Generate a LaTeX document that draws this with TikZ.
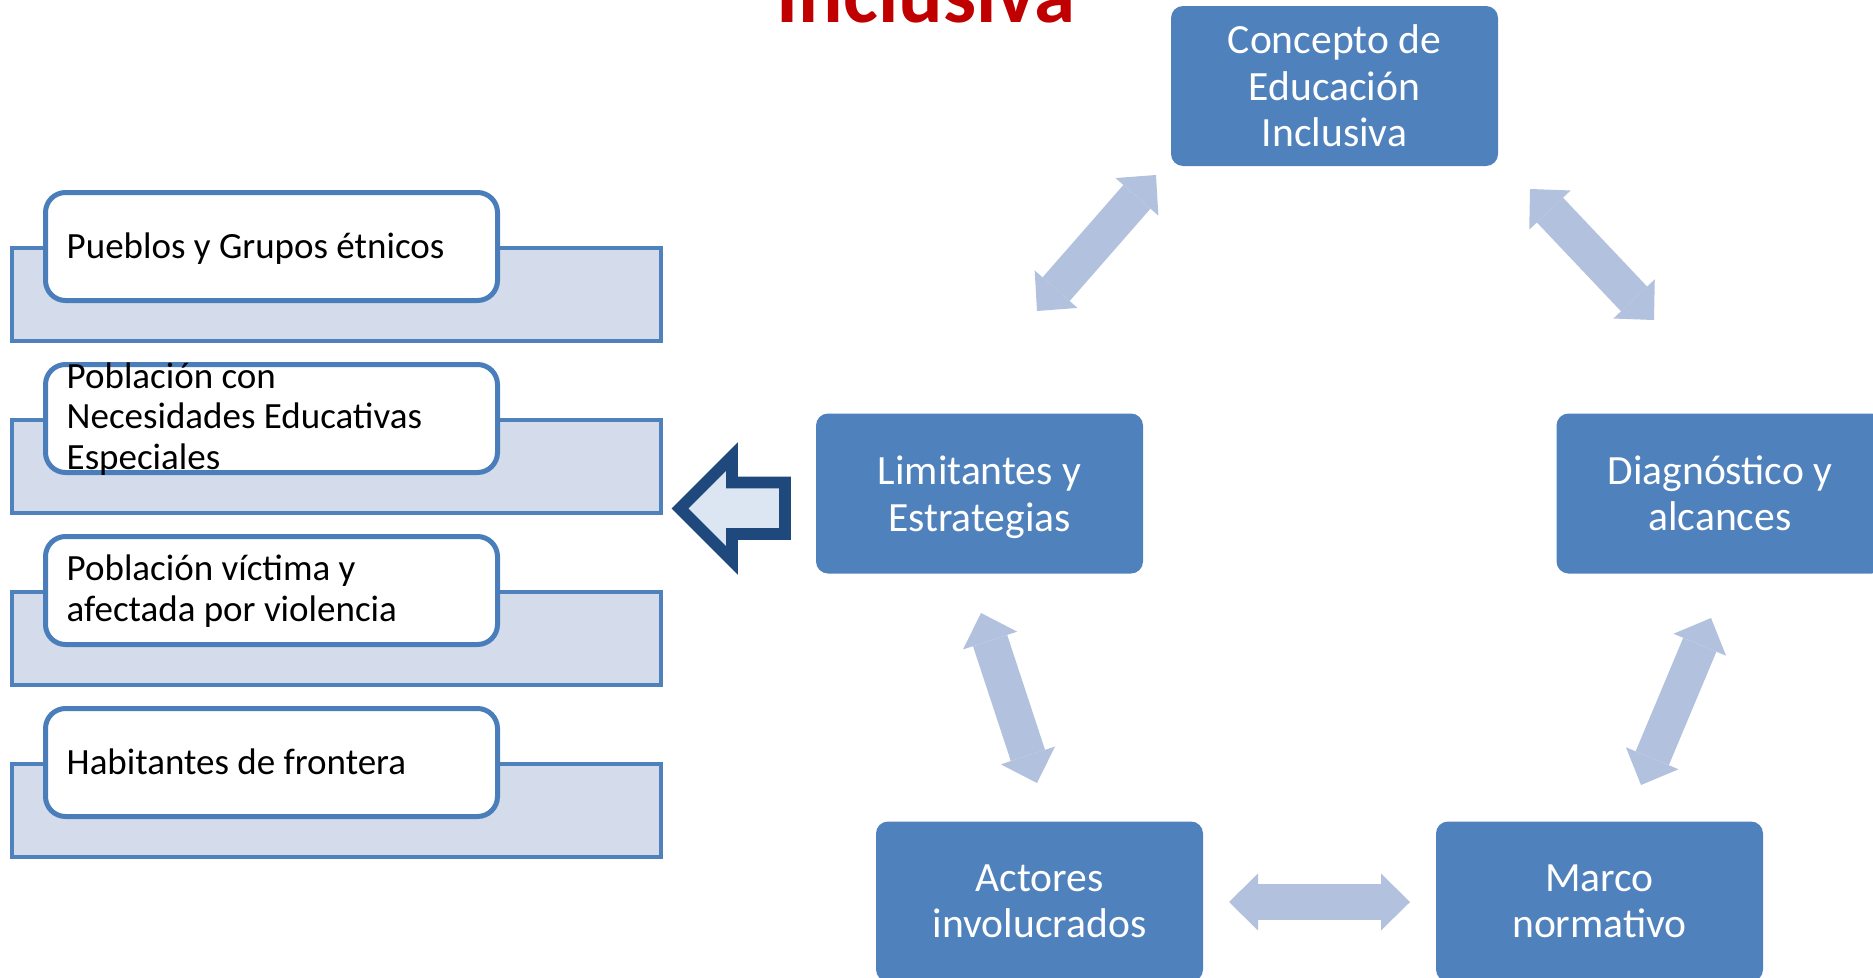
\documentclass[tikz,border=0pt]{standalone}
\usepackage{fontspec}
\setmainfont{Carlito}
\RequirePackage{tikz}
\RequirePackage{tkz-euclide}
\usetikzlibrary{calc}
\usetikzlibrary{arrows.meta}

\definecolor{boxblue}{HTML}{4F81BD}
\definecolor{edgeblue}{HTML}{4A7EBB}
\definecolor{backfill}{HTML}{D4DBEA}
\definecolor{linkblue}{HTML}{B2C1DD}
\definecolor{darkblue}{HTML}{1F497D}
\definecolor{paleblue}{HTML}{DCE6F2}
\definecolor{titlered}{HTML}{C00000}

\tikzset{
  topic/.style={rectangle,rounded corners=12pt,fill=boxblue,text=white,
    minimum width=327pt,minimum height=160pt,inner sep=0pt,align=center,
    font=\fontsize{41.6}{46.5}\selectfont},
  backbar/.style={rectangle,draw=boxblue,fill=backfill,line width=4pt,
    minimum width=649pt,minimum height=93pt,inner sep=0pt},
  popbox/.style={rectangle,rounded corners=20pt,draw=edgeblue,fill=white,
    line width=5pt,minimum width=452pt,minimum height=108pt,inner sep=0pt},
  poptext/.style={anchor=west,align=left,inner xsep=23.5pt,inner ysep=0pt,
    yshift=-3.5pt,font=\fontsize{37}{40.5}\selectfont,
    execute at begin node=\strut,execute at end node=\strut},
  link/.style={line width=36pt,color=linkblue,
    >={Triangle[width=57pt,length=29pt,line width=0pt]},<->}
}

\begin{document}
\begin{tikzpicture}[x=1pt,y=-1pt]
                    \useasboundingbox (0,0) rectangle (1873,977);
                    \clip (0,0) rectangle (1873,977);

                    \node[font=\fontsize{83}{90}\selectfont\bfseries,text=titlered,
                      anchor=base,inner sep=0pt] (titulo) at (926,22) {Inclusiva};

                    \node[backbar] (barra1) at (336.5,294.5) {};
                    \node[backbar] (barra2) at (336.5,466.5) {};
                    \node[backbar] (barra3) at (336.5,638.5) {};
                    \node[backbar] (barra4) at (336.5,810.5) {};

                    \node[popbox] (grupo1) at (271.5,246.5) {};
                    \node[popbox] (grupo2) at (271.5,418.5) {};
                    \node[popbox] (grupo3) at (271.5,590.5) {};
                    \node[popbox] (grupo4) at (271.5,762.5) {};

                    \node[poptext] (texto1) at (grupo1.west) {Pueblos y Grupos étnicos};
                    \node[poptext] (texto2) at (grupo2.west) {Población con\\Necesidades Educativas\\Especiales};
                    \node[poptext] (texto3) at (grupo3.west) {Población víctima y\\afectada por violencia};
                    \node[poptext] (texto4) at (grupo4.west) {Habitantes de frontera};

                    \draw[darkblue,fill=paleblue,line width=11.7pt]
                      (785,482.5) -- (732,482.5) -- (732,456.5) -- (680,508.5)
                      -- (732,560.5) -- (732,534) -- (785,534) -- cycle;

                    \node[topic] (concepto) at (1334.5,86) {Concepto de\\Educación\\Inclusiva};
                    \node[topic] (limitantes) at (979.5,493.5) {Limitantes y\\\smash{Estrategias}};
                    \node[topic] (diagnostico) at (1720,493.5) {Diagnóstico y\\alcances};
                    \node[topic] (actores) at (1039.5,901.5) {Actores\\involucrados};
                    \node[topic] (marco) at (1599.5,901.5) {Marco\\normativo};

                    \tkzDefPoint(1037,311){L1}
                    \tkzDefPoint(1156,175){C1}
                    \tkzDefPoint(1530,189){C2}
                    \tkzDefPoint(1654,320){D1}
                    \tkzDefPoint(1711,618){D2}
                    \tkzDefPoint(1641,785){M1}
                    \tkzDefPoint(1410,902){M2}
                    \tkzDefPoint(1229,902){A1}
                    \tkzDefPoint(1037,783){A2}
                    \tkzDefPoint(981,613){L2}

                    \draw[link] (L1) -- (C1);
                    \draw[link] (C2) -- (D1);
                    \draw[link] (D2) -- (M1);
                    \draw[link] (M2) -- (A1);
                    \draw[link] (A2) -- (L2);
                \end{tikzpicture}
\end{document}
